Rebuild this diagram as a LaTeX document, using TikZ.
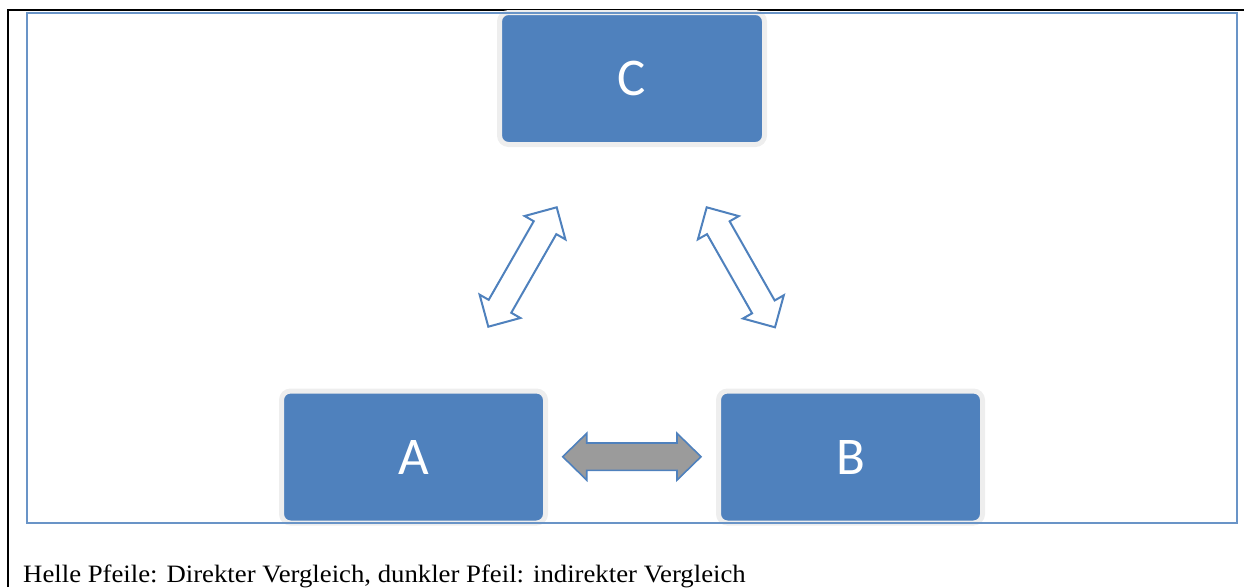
\documentclass[tikz,border=0pt]{standalone}
\usepackage{fontspec}
\usepackage{graphicx}
\setmainfont{Liberation Serif}
\newfontfamily\boxfont{Carlito}
\usetikzlibrary{calc}
\definecolor{officeblue}{HTML}{4F81BD}
\definecolor{boxblue}{HTML}{4F81BD}
\definecolor{rimgray}{HTML}{EEEEEE}
\definecolor{arrowgray}{HTML}{9B9B9B}
\tikzset{
  blockbox/.style={draw=rimgray, line width=5pt, fill=boxblue, rounded corners=9pt,
    text=white, font=\boxfont\fontsize{53}{53}\selectfont, inner sep=0pt},
  lightarrow/.style={draw=officeblue, line width=2pt, fill=white, line join=miter},
  darkarrow/.style={draw=officeblue, line width=1.6pt, fill=arrowgray, line join=miter},
  frameline/.style={draw=officeblue!85, line width=2pt},
  pageline/.style={draw=black, line width=2.2pt}
}
\newcommand\blockarrow[6]{%
  \coordinate (ba1) at ($(#1)!#5!(#2)$);
  \coordinate (ba2) at ($(#2)!#5!(#1)$);
  \draw[#6] (#1) -- ($(ba1)!#3!90:(#2)$) -- ($(ba1)!#4!90:(#2)$)
    -- ($(ba2)!#4!-90:(#1)$) -- ($(ba2)!#3!-90:(#1)$) -- (#2)
    -- ($(ba2)!#3!90:(#1)$) -- ($(ba2)!#4!90:(#1)$)
    -- ($(ba1)!#4!-90:(#2)$) -- ($(ba1)!#3!-90:(#2)$) -- cycle;
}
\begin{document}
\begin{tikzpicture}[x=1pt,y=-1pt]
\useasboundingbox (0,0) rectangle (1244,587);
% page lines
\coordinate (pl1) at (8,587);
\coordinate (pl2) at (8,10);
\coordinate (pl3) at (1244,10);
\draw[pageline] (pl1) -- (pl2) -- (pl3);
% boxes
\node[blockbox, minimum width=265pt, minimum height=132pt] (C) at (632,78.5) {C};
\node[blockbox, minimum width=264pt, minimum height=132pt] (A) at (413.5,457) {A};
\node[blockbox, minimum width=264pt, minimum height=132pt] (B) at (850.5,457) {B};
% frame
\coordinate (f1) at (27,12.5);
\coordinate (f2) at (1237,522.5);
\draw[frameline] (f1) rectangle (f2);
% arrows
\coordinate (acT) at (556.7,207.3);
\coordinate (acB) at (488.3,326.7);
\coordinate (bcT) at (706.7,207.3);
\coordinate (bcB) at (775,327.3);
\coordinate (abL) at (562.7,456.7);
\coordinate (abR) at (701,456.7);
\blockarrow{acB}{acT}{23.5pt}{13pt}{23.5pt}{lightarrow}
\blockarrow{bcB}{bcT}{23.5pt}{13pt}{23.5pt}{lightarrow}
\blockarrow{abL}{abR}{23.4pt}{13.7pt}{24pt}{darkarrow}
% caption
\node[anchor=base west, inner sep=0pt, font=\fontsize{25}{25}\selectfont] (cap) at (23,582) {\scalebox{1.07}[1]{Helle Pfeile: Direkter Vergleich, dunkler Pfeil: indirekter Vergleich}};
\end{tikzpicture}
\end{document}
